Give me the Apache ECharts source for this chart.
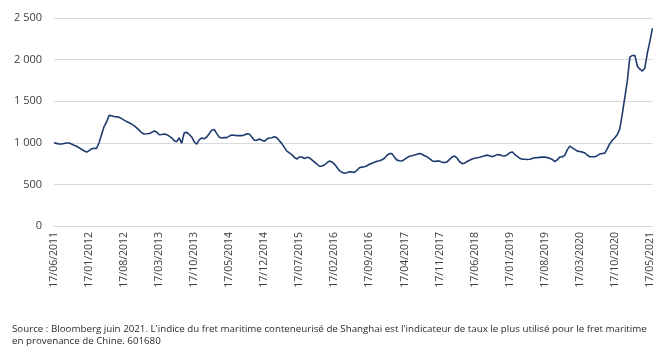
<!DOCTYPE html>
<html>
<head>
<meta charset="utf-8">
<script src="https://cdn.jsdelivr.net/npm/echarts@6/dist/echarts.min.js"></script>
<style>
html,body{margin:0;padding:0;background:#fff;}
#c{width:671px;height:358px;}
</style>
</head>
<body>
<div id="c"></div>
<script>
// Tick labels (every 7 months)
const tickLabels = ["17/06/2011","17/01/2012","17/08/2012","17/03/2013","17/10/2013","17/05/2014","17/12/2014","17/07/2015","17/02/2016","17/09/2016","17/04/2017","17/11/2017","17/06/2018","17/01/2019","17/08/2019","17/03/2020","17/10/2020","17/05/2021"];

const values = [
1001,993,985,985,992,998,998,985,970,958,940,923,905,888,905,928,935,932,1000,1100,
1195,1250,1330,1325,1316,1312,1307,1290,1272,1255,1240,1225,1207,1180,1152,1120,1106,1108,1112,1125,
1142,1130,1097,1100,1105,1098,1080,1060,1026,1014,1060,994,1120,1125,1100,1070,1010,985,1035,1058,
1048,1070,1110,1150,1160,1110,1068,1058,1062,1062,1080,1094,1090,1086,1086,1086,1095,1108,1105,1070,
1030,1030,1045,1030,1018,1045,1058,1060,1072,1060,1025,990,945,900,878,858,825,805,830,830,
812,825,820,795,770,745,718,720,733,760,780,770,745,705,665,645,635,640,652,650,
645,670,700,708,712,725,742,755,765,778,785,797,815,850,870,870,825,792,785,781,
800,822,838,845,853,862,872,862,845,832,810,785,775,782,780,766,762,770,800,828,
840,815,772,750,755,775,790,805,815,820,826,835,845,852,845,833,845,858,855,845,
841,855,880,890,862,838,815,802,802,800,802,812,821,822,825,828,829,822,814,800,
775,795,830,830,850,915,960,940,920,900,895,888,878,850,833,833,833,845,866,872,
876,930,990,1030,1060,1100,1170,1350,1550,1750,2030,2050,2050,1920,1885,1862,1900,2080,2220,2376
];

// Categories: 17th of each month and 2nd of the following month
const categories = [];
(function(){
  const pad = n => (n < 10 ? "0" : "") + n;
  let y = 2011, m = 6;
  for (let i = 0; i < 120; i++) {
    categories.push("17/" + pad(m) + "/" + y);
    let m2 = m + 1, y2 = y;
    if (m2 > 12) { m2 = 1; y2++; }
    categories.push("02/" + pad(m2) + "/" + y2);
    m = m2; y = y2;
  }
})();

const sourceLines = [
  "Source : Bloomberg juin 2021. L'indice du fret maritime conteneurisé de Shanghai est l'indicateur de taux le plus utilisé pour le fret maritime",
  "en provenance de Chine. 601680"
];

const chart = echarts.init(document.getElementById('c'), null, {renderer:'canvas'});
chart.setOption({
  animation: false,
  backgroundColor: '#ffffff',
  grid: {left: 54, right: 18.6, top: 18, bottom: 132, containLabel: false},
  xAxis: {
    type: 'category',
    data: categories.slice(0, values.length),
    boundaryGap: false,
    axisLine: {show: true, lineStyle: {color: '#d9d9d9', width: 1}},
    axisTick: {show: false},
    axisLabel: {
      interval: 13,
      rotate: 90,
      margin: 6,
      color: '#404040',
      fontFamily: 'Open Sans',
      fontSize: 10.5
    },
    splitLine: {show: false}
  },
  yAxis: {
    type: 'value',
    min: 0, max: 2500, interval: 500,
    axisLine: {show: false},
    axisTick: {show: false},
    axisLabel: {
      margin: 12,
      color: '#404040',
      fontFamily: 'Open Sans',
      fontSize: 11,
      formatter: v => v >= 1000 ? Math.floor(v/1000) + ' ' + String(v%1000).padStart(3,'0') : String(v)
    },
    splitLine: {lineStyle: {color: '#d9d9d9', width: 1}}
  },
  series: [{
    type: 'line',
    data: values,
    showSymbol: false,
    smooth: false,
    lineStyle: {color: '#1f3b6e', width: 1.6},
    itemStyle: {color: '#1f3b6e'}
  }],
  graphic: sourceLines.map((t, i) => ({
    type: 'text',
    left: 12,
    top: 324 + i * 12,
    style: {text: t, fill: '#2b2b2b', font: '9.75px "Open Sans"'}
  }))
});
</script>
</body>
</html>
